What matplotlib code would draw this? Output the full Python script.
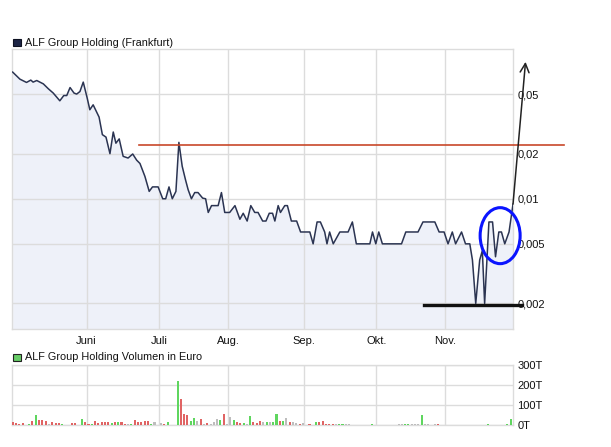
import matplotlib
matplotlib.use("Agg")
import matplotlib.pyplot as plt
from matplotlib.patches import Ellipse, Rectangle

# ---------------- data ----------------
price_day = [0.0, 2.2, 4.2, 5.5, 6.2, 7.3, 9.3, 10.8, 12.3, 14.3, 15.5, 16.4, 17.4, 18.6, 19.4,
             20.4, 21.4, 22.6, 23.4, 24.4, 26.2, 27.2, 28.3, 29.5, 30.5, 31.3, 32.3, 33.5, 35.0,
             36.4, 37.6, 38.6, 40.1, 41.4, 42.4, 44.1, 45.5, 46.4, 47.4, 48.4, 49.5, 50.4, 51.4,
             52.4, 53.2, 54.2, 55.2, 56.2, 57.6, 58.5, 59.3, 60.3, 62.3, 63.3, 64.3, 65.8, 67.4,
             68.9, 69.9, 71.1, 72.2, 73.4, 74.4, 75.8, 76.8, 77.8, 78.8, 79.5, 80.5, 81.2, 82.5,
             83.3, 84.5, 86.1, 87.3, 88.6, 90.1, 91.1, 92.3, 93.3, 94.6, 95.3, 96.1, 97.2, 99.2,
             101.7, 103.0, 104.2, 108.3, 109.1, 110.1, 111.0, 112.1, 117.9, 119.2, 122.9, 124.4,
             128.0, 129.3, 130.8, 132.0, 133.3, 134.3, 136.1, 137.3, 138.6, 139.4, 140.4, 141.6,
             142.4, 143.1, 144.4, 145.5, 146.4, 147.4, 148.2, 149.2, 150.5, 151.7]
price_value = [0.0701, 0.0629, 0.0598, 0.0620, 0.0601, 0.0616, 0.0585, 0.0543, 0.0508, 0.0451,
               0.0489, 0.0489, 0.0553, 0.0508, 0.0500, 0.0520, 0.0601, 0.0470, 0.0393, 0.0424,
               0.0351, 0.0268, 0.0258, 0.0200, 0.0279, 0.0235, 0.0251, 0.0192, 0.0187, 0.0199,
               0.0181, 0.0172, 0.0141, 0.0112, 0.0120, 0.0120, 0.0100, 0.0100, 0.0120, 0.0100,
               0.0112, 0.0238, 0.0165, 0.0134, 0.0115, 0.0100, 0.0110, 0.0110, 0.0101, 0.0100,
               0.0081, 0.0090, 0.0090, 0.0110, 0.0081, 0.0081, 0.0090, 0.0073, 0.0080, 0.0071,
               0.0090, 0.0081, 0.0081, 0.0071, 0.0071, 0.0080, 0.0080, 0.0071, 0.0090, 0.0081,
               0.0090, 0.0090, 0.0071, 0.0071, 0.0060, 0.0060, 0.0060, 0.0050, 0.0070, 0.0070,
               0.0060, 0.0050, 0.0060, 0.0050, 0.0060, 0.0060, 0.0070, 0.0050, 0.0050, 0.0060,
               0.0050, 0.0060, 0.0050, 0.0050, 0.0060, 0.0060, 0.0070, 0.0070, 0.0060, 0.0060,
               0.0050, 0.0060, 0.0050, 0.0060, 0.0050, 0.0050, 0.0039, 0.0020, 0.0039, 0.0045,
               0.0020, 0.0070, 0.0070, 0.0041, 0.0060, 0.0060, 0.0050, 0.0060, 0.0092]

vol_day = [0, 1, 2, 3, 5, 6, 7, 8, 9, 10, 11, 12, 13, 14, 15,
           18, 19, 21, 22, 23, 24, 25, 26, 27, 28, 29, 30, 31, 32, 33, 34, 35, 36, 37, 38, 39, 40,
           41, 42, 43, 45, 46, 47,
           50, 51, 52, 53, 54, 55, 56, 57, 58, 59, 60, 61, 62, 63, 64, 65, 66, 67, 68, 69, 70, 71,
           72, 73, 74, 75, 76,
           77, 78, 79, 80, 81, 82, 83, 84, 85, 86, 87, 88, 90, 92, 93, 94, 95, 96, 97, 98, 99, 100,
           101, 102,
           109, 117, 118, 119, 120, 121, 122, 123, 124, 125, 126, 128, 129, 144, 150, 151]
vol_value = [17, 12, 7, 12, 7, 22, 52, 23, 27, 18, 7, 17, 8, 12, 7,
             12, 12, 32, 13, 7, 7, 22, 12, 15, 17, 17, 8, 17, 17, 17, 7, 7, 7, 25, 13, 13, 22,
             22, 7, 17, 10, 5, 17,
             222, 132, 57, 52, 22, 35, 22, 32, 7, 12, 7, 15, 32, 27, 57, 7, 40, 27, 15, 12, 12, 7,
             47, 17, 12, 20, 17,
             17, 17, 15, 57, 22, 22, 35, 17, 15, 12, 7, 12, 5, 17, 15, 22, 7, 7, 7, 5, 7, 7,
             5, 5,
             7, 5, 7, 7, 7, 7, 5, 7, 48, 7, 7, 5, 7, 7, 7, 32]
vol_kind = ("rrrrgrgrrrsrrrg"
            "rrgrrgrrrrrgrgrrsgrrrrrgssrg"
            "grrrggsrsrsssgrssgrrgsgrrrs"
            "gsggrgsrssrsrgrrrrrsggss"
            "gssggsssgsssrggg")

price_ticks = [0.002, 0.005, 0.01, 0.02, 0.05]
price_tick_labels = ["0,002", "0,005", "0,01", "0,02", "0,05"]
vol_ticks = [0, 100, 200, 300]
vol_tick_labels = ["0T", "100T", "200T", "300T"]
month_pos = [22.4, 44.5, 65.3, 88.3, 110.3, 131.2]
month_labels = ["Juni", "Juli", "Aug.", "Sep.", "Okt.", "Nov."]

resistance_level = 0.0230
resistance_span = [38.3, 167.1]
support_level = 0.00196
support_span = [124.6, 154.5]
arrow_tip = (155.5, 0.0821)
circle_center = (147.8, 0.00567)

# ---------------- figure ----------------
W, H = 611, 447
fig = plt.figure(figsize=(W / 100, H / 100), dpi=100)
plt.rcParams["font.family"] = ["Liberation Sans", "DejaVu Sans"]


def rect(l, t, r, b):
    return [l / W, 1 - b / H, (r - l) / W, (b - t) / H]


grid_c = "#dcdcdc"
ax = fig.add_axes(rect(12, 49, 513, 329))
axv = fig.add_axes(rect(12, 365, 513, 425))

xmin, xmax = -0.2, 151.7
ylo, yhi = 0.00135, 0.1

ax.set_yscale("log")
ax.set_xlim(xmin, xmax)
ax.set_ylim(ylo, yhi)
ax.fill_between(price_day, price_value, ylo, color="#eef1f9", lw=0, zorder=1)
for m in month_pos:
    ax.axvline(m, color=grid_c, lw=1, zorder=2)
for t in price_ticks:
    ax.axhline(t, color=grid_c, lw=1, zorder=2)
ax.plot(price_day, price_value, color="#2b3452", lw=1.1, zorder=4)

ax.yaxis.tick_right()
ax.set_yticks(price_ticks)
ax.set_yticklabels(price_tick_labels)
ax.yaxis.set_minor_locator(matplotlib.ticker.NullLocator())
ax.set_xticks(month_pos)
ax.set_xticklabels(month_labels)
ax.tick_params(axis="both", length=0, labelsize=8, colors="#111111")
ax.tick_params(axis="y", pad=3)
ax.tick_params(axis="x", pad=5)
for s in ax.spines.values():
    s.set_color(grid_c)
    s.set_linewidth(1)

# annotations
ax.plot(resistance_span, [resistance_level] * 2, color="#c8482a", lw=1.2, zorder=5, clip_on=False)
ax.plot(support_span, [support_level] * 2, color="#111111", lw=2.4, zorder=5, clip_on=False)
ax.annotate("", xy=arrow_tip, xytext=(price_day[-1], price_value[-1]),
            arrowprops=dict(arrowstyle="->", color="#222222", lw=1.1, mutation_scale=16,
                            shrinkA=0, shrinkB=0),
            annotation_clip=False, zorder=6)
cx, cy = ax.transAxes.inverted().transform(ax.transData.transform(circle_center))
ax.add_patch(Ellipse((cx, cy), 40 / 501, 56 / 280, transform=ax.transAxes, fill=False,
                     edgecolor="#0a14ff", lw=2.2, zorder=6, clip_on=False))

# volume panel
col_map = {"r": "#e06464", "g": "#5fd65f", "s": "#bdbdbd"}
axv.set_xlim(xmin, xmax)
axv.set_ylim(0, 300)
for m in month_pos:
    axv.axvline(m, color=grid_c, lw=1, zorder=1)
for t in vol_ticks:
    axv.axhline(t, color=grid_c, lw=1, zorder=1)
axv.bar(vol_day, vol_value, width=0.62, color=[col_map[k] for k in vol_kind], zorder=3)
axv.yaxis.tick_right()
axv.set_yticks(vol_ticks)
axv.set_yticklabels(vol_tick_labels)
axv.set_xticks([])
axv.tick_params(axis="both", length=0, labelsize=8, colors="#111111", pad=3)
for s in axv.spines.values():
    s.set_color(grid_c)
    s.set_linewidth(1)

# legend-like titles
fig.add_artist(Rectangle((13 / W, 1 - 46 / H), 8 / W, 7 / H, transform=fig.transFigure,
                         facecolor="#1c2444", edgecolor="#0c1020", lw=0.8))
fig.text(25 / W, 1 - 42.5 / H, "ALF Group Holding (Frankfurt)", fontsize=7.8,
         va="center", ha="left", color="#111111")
fig.add_artist(Rectangle((13 / W, 1 - 361 / H), 8 / W, 7 / H, transform=fig.transFigure,
                         facecolor="#66cc66", edgecolor="#222222", lw=0.8))
fig.text(25 / W, 1 - 357 / H, "ALF Group Holding Volumen in Euro", fontsize=7.8,
         va="center", ha="left", color="#111111")

fig.savefig("out.png", dpi=100)
